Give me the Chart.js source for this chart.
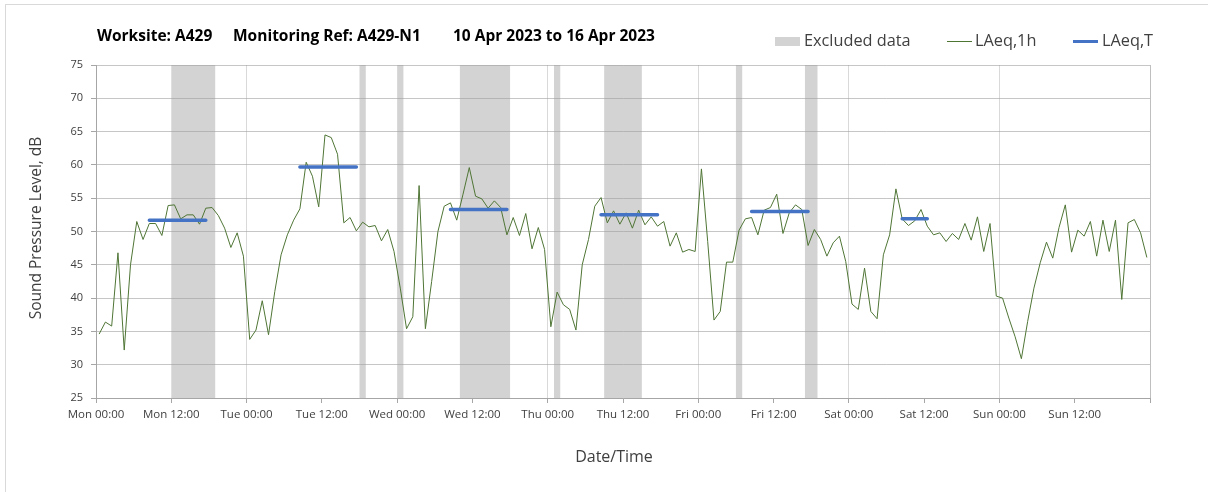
<!DOCTYPE html>
<html>
<head>
<meta charset="utf-8">
<title>A429-N1 noise monitoring</title>
<script src="https://cdn.jsdelivr.net/npm/chart.js@4.4.0/dist/chart.umd.min.js"></script>
<style>
html, body { margin: 0; padding: 0; background: #fff; }
#wrap { position: relative; width: 1208px; height: 492px; }
</style>
</head>
<body>
<div id="wrap"><canvas id="chart" width="1208" height="492"></canvas></div>
<script>
// LAeq,1h - one value per hour, Mon 00:00 to Sun 23:00
var hourlyLevels = [
    34.6, 36.4, 35.8, 46.8, 32.2, 45.0, 51.5, 48.8, 51.2, 51.2, 49.4, 53.9,
    54.0, 51.9, 52.5, 52.5, 51.1, 53.5, 53.6, 52.4, 50.5, 47.6, 49.8, 46.3,
    33.8, 35.2, 39.6, 34.5, 41.0, 46.5, 49.5, 51.7, 53.4, 60.4, 58.3, 53.7,
    64.5, 64.1, 61.6, 51.3, 52.1, 50.1, 51.4, 50.7, 50.9, 48.6, 50.3, 47.0,
    41.5, 35.4, 37.2, 56.9, 35.4, 42.5, 50.0, 53.8, 54.3, 51.7, 55.6, 59.6,
    55.3, 54.9, 53.5, 54.6, 53.6, 49.5, 52.1, 49.4, 52.7, 47.4, 50.6, 47.3,
    35.7, 40.9, 39.0, 38.3, 35.2, 45.0, 48.8, 53.8, 55.1, 51.3, 53.1, 51.1,
    52.8, 50.5, 53.2, 51.0, 52.2, 50.8, 51.5, 47.8, 49.8, 46.9, 47.3, 47.0,
    59.4, 48.5, 36.7, 38.0, 45.4, 45.4, 50.2, 51.9, 52.1, 49.5, 53.2, 53.6,
    55.6, 49.7, 52.8, 54.0, 53.3, 47.9, 50.3, 48.8, 46.3, 48.3, 49.3, 45.5,
    39.1, 38.3, 44.5, 38.0, 36.9, 46.5, 49.5, 56.4, 51.9, 50.9, 51.6, 53.3,
    50.8, 49.5, 49.8, 48.5, 49.7, 48.8, 51.2, 48.7, 52.2, 47.0, 51.2, 40.3,
    40.0, 37.0, 34.2, 30.9, 36.5, 41.5, 45.3, 48.4, 46.0, 50.6, 54.0, 46.9,
    50.2, 49.3, 51.5, 46.3, 51.7, 47.0, 51.7, 39.8, 51.3, 51.8, 49.8, 46.1
];

// LAeq,T over the assessment periods (first hour, last hour, level)
var periodStart = [8, 32, 56, 80, 104, 128];
var periodEnd = [17, 41, 65, 89, 113, 132];
var periodLevel = [51.7, 59.7, 53.3, 52.5, 53.0, 51.9];

// excluded data, hours from Mon 00:00
var excludedStart = [12, 42, 48, 58, 73, 81, 102, 113];
var excludedEnd = [19, 43, 49, 66, 74, 87, 103, 115];

var timeLabels = ['Mon 00:00', 'Mon 12:00', 'Tue 00:00', 'Tue 12:00', 'Wed 00:00', 'Wed 12:00',
    'Thu 00:00', 'Thu 12:00', 'Fri 00:00', 'Fri 12:00', 'Sat 00:00', 'Sat 12:00',
    'Sun 00:00', 'Sun 12:00'];

var titleParts = ['Worksite: A429', 'Monitoring Ref: A429-N1', '10 Apr 2023 to 16 Apr 2023'];

var textColor = '#404040';

// puntos de la serie horaria (centrados en la hora)
var hourlyPoints = hourlyLevels.map(function(v, i) {
    return { x: i + 0.5, y: v };
});

// tramos LAeq,T separados por huecos
var periodPoints = [];
for (var p = 0; p < periodStart.length; p++) {
    periodPoints.push({ x: periodStart[p] + 0.5, y: periodLevel[p] });
    periodPoints.push({ x: periodEnd[p] + 0.5, y: periodLevel[p] });
    periodPoints.push({ x: periodEnd[p] + 1, y: null });
}

var decorPlugin = {
    id: 'decor',
    beforeDraw: function(chart) {
        var ctx = chart.ctx;
        var area = chart.chartArea;
        var x = chart.scales.x;
        ctx.save();
        // outer border
        ctx.strokeStyle = '#d9d9d9';
        ctx.lineWidth = 1;
        ctx.strokeRect(5.5, 4.5, 1400, 800);
        // excluded bands
        ctx.fillStyle = '#d3d3d3';
        for (var i = 0; i < excludedStart.length; i++) {
            var x0 = x.getPixelForValue(excludedStart[i]);
            var x1 = x.getPixelForValue(excludedEnd[i]);
            ctx.fillRect(x0, area.top, x1 - x0, area.bottom - area.top);
        }
        ctx.restore();
    },
    afterDraw: function(chart) {
        var ctx = chart.ctx;
        ctx.save();
        ctx.fillStyle = '#000';
        ctx.textBaseline = 'middle';
        ctx.font = 'bold 15.5px "Open Sans"';
        ctx.fillText(titleParts[0], 97, 37);
        ctx.fillText(titleParts[1], 233, 37);
        ctx.fillText(titleParts[2], 453, 37);

        // legend
        ctx.font = '16.3px "Open Sans"';
        ctx.fillStyle = '#d3d3d3';
        ctx.fillRect(775, 37, 25, 9);
        ctx.fillStyle = textColor;
        ctx.fillText('Excluded data', 804, 41);
        ctx.strokeStyle = '#4f7535';
        ctx.lineWidth = 1;
        ctx.beginPath();
        ctx.moveTo(947, 41.5);
        ctx.lineTo(972, 41.5);
        ctx.stroke();
        ctx.fillText('LAeq,1h', 975, 41);
        ctx.strokeStyle = '#4472c4';
        ctx.lineWidth = 3;
        ctx.beginPath();
        ctx.moveTo(1073, 41.5);
        ctx.lineTo(1098, 41.5);
        ctx.stroke();
        ctx.fillText('LAeq,T', 1102, 41);

        // axis titles
        ctx.font = '16px "Open Sans"';
        ctx.textAlign = 'center';
        ctx.fillText('Date/Time', 614, 457);
        ctx.translate(37, 228);
        ctx.rotate(-Math.PI / 2);
        ctx.font = '15.5px "Open Sans"';
        ctx.fillText('Sound Pressure Level, dB', 0, 0);
        ctx.restore();
    }
};

var chart = new Chart(document.getElementById('chart'), {
    type: 'line',
    data: {
        datasets: [{
            label: 'LAeq,T',
            data: periodPoints,
            borderColor: '#4472c4',
            borderWidth: 3.5,
            borderCapStyle: 'round',
            pointRadius: 0,
            spanGaps: false,
            order: 0
        }, {
            label: 'LAeq,1h',
            data: hourlyPoints,
            borderColor: '#4f7535',
            borderWidth: 1,
            pointRadius: 0,
            tension: 0,
            order: 1
        }]
    },
    options: {
        responsive: false,
        animation: false,
        devicePixelRatio: 1,
        layout: { padding: { top: 65, right: 58, bottom: 0, left: 0 } },
        plugins: {
            legend: { display: false },
            title: { display: false },
            tooltip: { enabled: false }
        },
        scales: {
            x: {
                type: 'linear',
                min: 0,
                max: 168,
                afterFit: function(scale) { scale.height = 94; },
                afterBuildTicks: function(scale) {
                    var t = [];
                    for (var h = 0; h <= 168; h += 12) t.push({ value: h });
                    scale.ticks = t;
                },
                ticks: {
                    autoSkip: false,
                    maxRotation: 0,
                    padding: 5,
                    color: textColor,
                    font: { family: 'Open Sans', size: 11.5 },
                    callback: function(value) {
                        return timeLabels[value / 12] || '';
                    }
                },
                grid: {
                    tickLength: 5,
                    tickColor: '#a6a6a6',
                    color: function(c) {
                        var v = c.tick ? c.tick.value : 0;
                        if (v === 168) return '#bfbfbf';
                        if (v % 24 === 0) return '#d9d9d9';
                        return 'rgba(0,0,0,0)';
                    }
                },
                border: { color: '#a6a6a6' }
            },
            y: {
                min: 25,
                max: 75,
                afterFit: function(scale) { scale.width = 96; },
                ticks: {
                    stepSize: 5,
                    padding: 8,
                    color: textColor,
                    font: { family: 'Open Sans', size: 11 }
                },
                grid: {
                    tickLength: 5,
                    tickColor: '#a6a6a6',
                    color: 'rgba(160,160,160,0.6)'
                },
                border: { color: '#a6a6a6' }
            }
        }
    },
    plugins: [decorPlugin]
});
</script>
</body>
</html>
